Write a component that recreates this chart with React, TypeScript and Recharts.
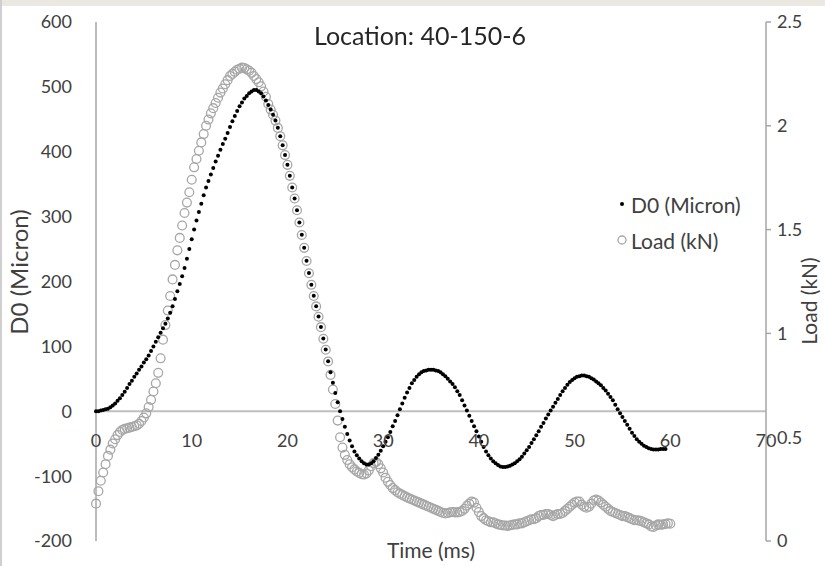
import { ReferenceLine, Scatter, ScatterChart, XAxis, YAxis } from "recharts";

// FWD sensor trace, one reading every 0.25 ms
const SAMPLE_MS = 0.25;

// D0 deflection (micron)
const d0Micron = [
  0, 0, 1, 2, 3, 4, 6, 9,
  12, 16, 20, 25, 30, 36, 42, 47,
  53, 58, 64, 69, 75, 80, 86, 93,
  100, 107, 114, 121, 128, 135, 143, 152,
  162, 173, 185, 196, 208, 221, 235, 250,
  265, 280, 294, 307, 320, 333, 345, 355,
  365, 375, 385, 394, 403, 412, 420, 429,
  438, 447, 455, 463, 470, 476, 482, 486,
  490, 493, 495, 495, 493, 490, 485, 479,
  472, 465, 457, 448, 437, 424, 410, 395,
  380, 363, 345, 328, 310, 291, 272, 252,
  232, 213, 195, 178, 162, 146, 130, 112,
  95, 77, 60, 44, 28, 14, 0, -12,
  -24, -35, -45, -54, -62, -68, -73, -77,
  -80, -82, -82, -80, -77, -72, -67, -61,
  -54, -47, -40, -32, -23, -15, -6, 3,
  12, 21, 29, 36, 43, 48, 53, 57,
  60, 62, 63, 64, 64, 64, 63, 62,
  60, 57, 54, 50, 46, 42, 37, 31,
  25, 17, 9, 1, -7, -15, -23, -31,
  -39, -47, -55, -62, -68, -73, -77, -80,
  -83, -85, -86, -86, -85, -84, -82, -80,
  -77, -74, -70, -65, -60, -55, -49, -43,
  -37, -31, -24, -18, -11, -5, 1, 7,
  13, 19, 25, 31, 36, 41, 45, 48,
  51, 53, 54, 55, 55, 54, 53, 51,
  49, 46, 43, 40, 36, 32, 27, 22,
  17, 10, 3, -3, -9, -15, -21, -27,
  -33, -38, -43, -47, -50, -53, -55, -57,
  -58, -59, -59, -59, -58, -58, -58,
];

// plate load (kN)
const loadKn = [
  0.18, 0.24, 0.29, 0.33, 0.37, 0.41, 0.44, 0.47,
  0.49, 0.51, 0.525, 0.535, 0.54, 0.543, 0.546, 0.549,
  0.553, 0.557, 0.565, 0.578, 0.595, 0.615, 0.645, 0.68,
  0.72, 0.76, 0.81, 0.88, 0.97, 1.04, 1.11, 1.18,
  1.26, 1.33, 1.4, 1.46, 1.52, 1.58, 1.63, 1.68,
  1.74, 1.8, 1.84, 1.88, 1.92, 1.96, 2.0, 2.03,
  2.06, 2.085, 2.11, 2.135, 2.16, 2.18, 2.2, 2.22,
  2.24, 2.25, 2.26, 2.27, 2.275, 2.28, 2.278, 2.272,
  2.265, 2.255, 2.24, 2.225, 2.21, 2.19, 2.165, 2.14,
  2.105, 2.078, 2.053, 2.025, 1.99, 1.95, 1.906, 1.859,
  1.812, 1.759, 1.703, 1.65, 1.593, 1.534, 1.474, 1.412,
  1.349, 1.29, 1.234, 1.18, 1.13, 1.08, 1.03, 0.974,
  0.921, 0.865, 0.8, 0.73, 0.66, 0.58, 0.5, 0.45,
  0.415, 0.39, 0.37, 0.355, 0.345, 0.335, 0.328, 0.322,
  0.32, 0.325, 0.34, 0.36, 0.375, 0.38, 0.37, 0.35,
  0.33, 0.305, 0.285, 0.27, 0.255, 0.245, 0.235, 0.228,
  0.222, 0.216, 0.21, 0.205, 0.2, 0.195, 0.19, 0.185,
  0.18, 0.175, 0.17, 0.165, 0.16, 0.155, 0.15, 0.145,
  0.14, 0.135, 0.133, 0.135, 0.138, 0.14, 0.138, 0.138,
  0.14, 0.145, 0.155, 0.17, 0.18, 0.19, 0.185, 0.16,
  0.14, 0.12, 0.11, 0.1, 0.095, 0.09, 0.09, 0.085,
  0.08, 0.078, 0.075, 0.075, 0.073, 0.075, 0.078, 0.08,
  0.08, 0.085, 0.085, 0.09, 0.095, 0.1, 0.105, 0.105,
  0.11, 0.12, 0.125, 0.125, 0.13, 0.13, 0.125, 0.12,
  0.125, 0.13, 0.13, 0.135, 0.145, 0.155, 0.165, 0.175,
  0.185, 0.19, 0.19, 0.175, 0.165, 0.16, 0.165, 0.18,
  0.195, 0.2, 0.195, 0.185, 0.175, 0.165, 0.155, 0.145,
  0.14, 0.135, 0.13, 0.125, 0.12, 0.12, 0.115, 0.11,
  0.105, 0.1, 0.1, 0.098, 0.095, 0.09, 0.085, 0.08,
  0.07, 0.068, 0.075, 0.08, 0.078, 0.08, 0.082, 0.085, 0.083,
];

const timeTicks = [0, 10, 20, 30, 40, 50, 60, 70];
const d0Ticks = [-200, -100, 0, 100, 200, 300, 400, 500, 600];
const loadTicks = [0, 0.5, 1, 1.5, 2, 2.5];

const W = 825;
const H = 566;
const X_AXIS_H = 25;
const M = { top: 22, right: 0, bottom: 0, left: 0 };
const LEFT_W = 96;
const RIGHT_W = 59;
const D0_MIN = -200;
const D0_MAX = 600;
const PLOT_H = H - M.top - X_AXIS_H;
// distance from the plot bottom up to the D0 = 0 line
const ZERO_RISE = (PLOT_H * (0 - D0_MIN)) / (D0_MAX - D0_MIN);

const FONT = "Lato, 'Open Sans', sans-serif";
const INK = "#404040";
const AXIS = "#a6a6a6";
const LOAD_GREY = "#a6a6a6";

const d0Points = d0Micron.map((v, i) => ({ x: i * SAMPLE_MS, y: v }));
const loadPoints = loadKn.map((v, i) => ({ x: i * SAMPLE_MS, y: v }));

// time labels sit under the D0 = 0 line instead of the plot bottom
function TimeTick(props: any) {
  const { x, y, payload } = props;
  return (
    <text x={x} y={y - ZERO_RISE + 36} textAnchor="middle" fill={INK} fontSize={18} fontFamily={FONT}>
      {payload.value}
    </text>
  );
}

const dotShape = (p: any) => <circle cx={p.cx} cy={p.cy} r={2} fill="#000" />;
const ringShape = (p: any) => (
  <circle cx={p.cx} cy={p.cy} r={4.4} fill="none" stroke={LOAD_GREY} strokeWidth={1.3} />
);

function LegendBox() {
  const row = { display: "flex", alignItems: "center", height: 36 } as const;
  return (
    <div style={{ position: "absolute", left: 611, top: 186, fontFamily: FONT, fontSize: 21, color: INK }}>
      <div style={row}>
        <svg width={20} height={12}>
          <circle cx={11} cy={6} r={2} fill="#000" />
        </svg>
        <span>D0 (Micron)</span>
      </div>
      <div style={row}>
        <svg width={20} height={12}>
          <circle cx={11} cy={6} r={4} fill="none" stroke={LOAD_GREY} strokeWidth={1.3} />
        </svg>
        <span>Load (kN)</span>
      </div>
    </div>
  );
}

// rotated axis title, centred on (cx, cy)
function SideTitle({ text, cx, cy, size }: { text: string; cx: number; cy: number; size: number }) {
  return (
    <div
      style={{
        position: "absolute",
        left: cx - 100,
        top: cy - 15,
        width: 200,
        height: 30,
        lineHeight: "30px",
        textAlign: "center",
        transform: "rotate(-90deg)",
        fontFamily: FONT,
        fontSize: size,
        color: INK,
        whiteSpace: "nowrap",
      }}
    >
      {text}
    </div>
  );
}

export default function App() {
  return (
    <div style={{ position: "fixed", left: 0, top: 0, width: W, height: H, background: "#fff" }}>
      <div style={{ position: "absolute", left: 0, top: 0, width: W, height: 6, background: "#ebe7e1" }} />
      <div style={{ position: "absolute", left: 0, top: 0, width: 2, height: H, background: "#cfcfcf" }} />
      <div
        style={{
          position: "absolute",
          left: 0,
          width: 840,
          top: 20,
          textAlign: "center",
          fontFamily: FONT,
          fontSize: 25,
          color: "#262626",
          zIndex: 2,
        }}
      >
        Location: 40-150-6
      </div>
      <ScatterChart width={W} height={H} margin={M}>
        <XAxis
          type="number"
          dataKey="x"
          xAxisId="t"
          domain={[0, 70]}
          ticks={timeTicks}
          interval={0}
          height={X_AXIS_H}
          axisLine={false}
          tickLine={false}
          tickSize={0}
          tickMargin={0}
          tick={<TimeTick />}
        />
        <YAxis
          yAxisId="d0"
          type="number"
          dataKey="y"
          domain={[D0_MIN, D0_MAX]}
          ticks={d0Ticks}
          interval={0}
          width={LEFT_W}
          axisLine={{ stroke: AXIS, strokeWidth: 1.5 }}
          tickLine={false}
          tickSize={0}
          tickMargin={24}
          tick={{ fill: INK, fontSize: 18, fontFamily: FONT }}
        />
        <YAxis
          yAxisId="load"
          orientation="right"
          type="number"
          dataKey="y"
          domain={[0, 2.5]}
          ticks={loadTicks}
          interval={0}
          width={RIGHT_W}
          axisLine={{ stroke: AXIS, strokeWidth: 1.5 }}
          tickLine={{ stroke: AXIS, strokeWidth: 1.5 }}
          tickSize={5}
          tickMargin={6}
          tick={{ fill: INK, fontSize: 18, fontFamily: FONT, textAnchor: "start" }}
        />
        <ReferenceLine xAxisId="t" yAxisId="d0" y={0} stroke="#bfbfbf" strokeWidth={2} />
        <Scatter
          name="Load (kN)"
          data={loadPoints}
          xAxisId="t"
          yAxisId="load"
          shape={ringShape}
          isAnimationActive={false}
        />
        <Scatter
          name="D0 (Micron)"
          data={d0Points}
          xAxisId="t"
          yAxisId="d0"
          shape={dotShape}
          isAnimationActive={false}
        />
      </ScatterChart>
      <SideTitle text="D0 (Micron)" cx={19} cy={272} size={24} />
      <SideTitle text="Load (kN)" cx={809} cy={301} size={21} />
      <LegendBox />
      <div
        style={{
          position: "absolute",
          left: 96,
          width: 670,
          top: 537,
          textAlign: "center",
          fontFamily: FONT,
          fontSize: 21,
          color: INK,
        }}
      >
        Time (ms)
      </div>
    </div>
  );
}
